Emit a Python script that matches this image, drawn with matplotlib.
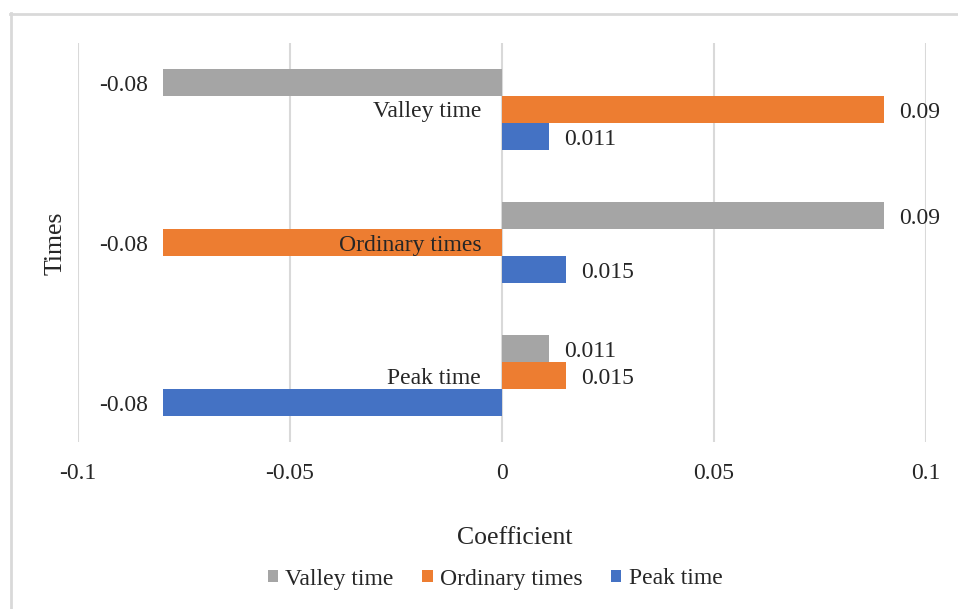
import matplotlib
matplotlib.use("Agg")
import matplotlib.pyplot as plt
from matplotlib.lines import Line2D
import numpy as np

plt.rcParams['font.family'] = ['Liberation Serif', 'DejaVu Serif']

categories = ["Peak time", "Ordinary times", "Valley time"]
series_names = ["Valley time", "Ordinary times", "Peak time"]
valley_vals = [0.011, 0.09, -0.08]
ordinary_vals = [0.015, -0.08, 0.09]
peak_vals = [-0.08, 0.015, 0.011]
series_vals = [valley_vals, ordinary_vals, peak_vals]
colors = ["#A5A5A5", "#ED7D31", "#4472C4"]
x_ticks = [-0.1, -0.05, 0, 0.05, 0.1]
x_tick_labels = ["-0.1", "-0.05", "0", "0.05", "0.1"]

W, H = 958, 609
fig = plt.figure(figsize=(W / 100, H / 100), dpi=100)
ax = fig.add_axes([78 / W, 1 - 442 / H, (926 - 78) / W, (442 - 43) / H])

y = np.arange(len(categories))
bh = 27 / 133
offsets = [bh, 0, -bh]
fs = 17
tc = "#262626"
for vals, name, col, off in zip(series_vals, series_names, colors, offsets):
    bars = ax.barh(y + off, vals, height=bh, color=col, label=name, zorder=2)
    for b, v in zip(bars, vals):
        yc = b.get_y() + b.get_height() / 2
        if v >= 0:
            ax.annotate(f"{v:g}", (v, yc), xytext=(11, -2), textcoords="offset points",
                        ha="left", va="center", fontsize=fs, color=tc, zorder=6)
        else:
            ax.annotate(f"{v:g}", (v, yc), xytext=(-11, -2), textcoords="offset points",
                        ha="right", va="center", fontsize=fs, color=tc, zorder=6)

ax.set_xlim(-0.1, 0.1)
ax.set_ylim(-0.5, 2.5)
ax.set_xticks(x_ticks)
ax.set_xticklabels(x_tick_labels, fontsize=fs, color=tc)
ax.tick_params(axis="x", length=0, pad=15)
ax.grid(axis="x", color="#D9D9D9", linewidth=1.5)
ax.xaxis.set_zorder(0.5)

ax.spines['left'].set_position(('data', 0))
for s in ax.spines.values():
    s.set_visible(False)
ax.set_yticks(y)
ax.set_yticklabels(categories, fontsize=fs, color=tc, va="center_baseline")
ax.tick_params(axis="y", length=0, pad=15)
ax.yaxis.set_zorder(5)

fig.text(56 / W, 1 - 243 / H, "Times", rotation=90, ha="center", va="center",
         fontsize=18.5, color=tc)
fig.text(515 / W, 1 - 538 / H, "Coefficient", ha="center", va="center",
         fontsize=18.5, color=tc)

handles, labels = ax.get_legend_handles_labels()
fig.legend(handles, labels, loc="center", bbox_to_anchor=(495 / W, 1 - 579 / H),
           ncol=3, frameon=False, fontsize=fs, handlelength=0.45, handleheight=0.45,
           handletextpad=0.3, columnspacing=1.2, labelcolor=tc)

fig.add_artist(Line2D([10.5 / W, 10.5 / W], [0, 1 - 13 / H], transform=fig.transFigure,
                      color="#D9D9D9", linewidth=2))
fig.add_artist(Line2D([10 / W, 1], [1 - 13.5 / H, 1 - 13.5 / H], transform=fig.transFigure,
                      color="#D9D9D9", linewidth=2))

fig.savefig("out.png", dpi=100)
